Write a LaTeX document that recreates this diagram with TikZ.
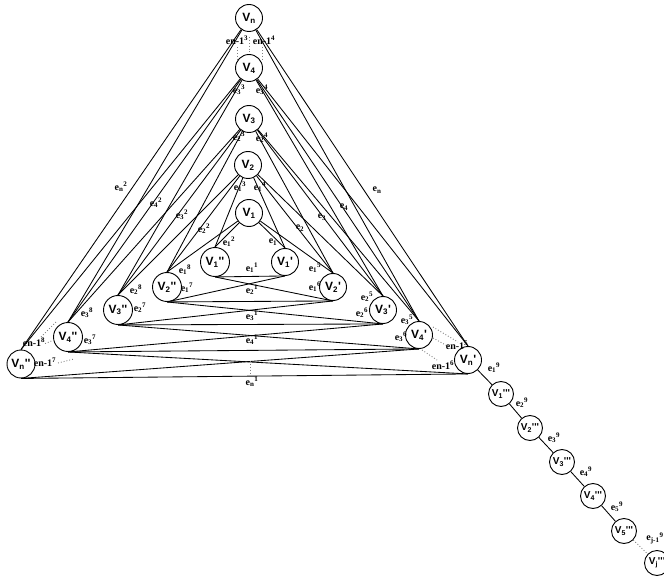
\documentclass[tikz,border=0pt]{standalone}
\usepackage{fontspec}
\setmainfont{Liberation Serif}
\newfontfamily\vfont{Liberation Sans}
\newcommand{\Vs}[2]{V\textsubscript{#1}#2}
\newcommand{\Es}[2]{e\textsubscript{#1}\textsuperscript{#2}}
\newcommand{\En}[1]{en-1\textsuperscript{#1}}
\begin{document}
\begin{tikzpicture}[x=1pt,y=-1pt,
  vx/.style={circle,draw,line width=0.9pt,minimum size=27pt,inner sep=0pt,font=\vfont\bfseries\fontsize{12}{12}\selectfont},
  vb/.style={vx,minimum size=29pt},
  vc/.style={vx,minimum size=25pt,font=\vfont\bfseries\fontsize{10}{10}\selectfont},
  lab/.style={font=\bfseries\fontsize{10}{10}\selectfont,inner sep=0pt},
  ed/.style={line width=0.85pt},
  dt/.style={dotted,line width=0.9pt,gray}]
\clip (0,0) rectangle (664,580);
% apex column
\node[vx] (Vn) at (249,18) {\Vs{n}{}};
\node[vx] (V4) at (249,68) {\Vs{4}{}};
\node[vx] (V3) at (249,119) {\Vs{3}{}};
\node[vx] (V2) at (248,165) {\Vs{2}{}};
\node[vx] (V1) at (249,213) {\Vs{1}{}};
% right (') vertices
\node[vx] (V1a) at (285,262) {\Vs{1}{'}};
\node[vx] (V2a) at (333,287) {\Vs{2}{'}};
\node[vx] (V3a) at (383,310) {\Vs{3}{'}};
\node[vx] (V4a) at (419,335) {\Vs{4}{'}};
\node[vx] (Vna) at (468,360) {\Vs{n}{'}};
% left ('') vertices
\node[vb] (V1b) at (215,262) {\Vs{1}{''}};
\node[vb] (V2b) at (167,287) {\Vs{2}{''}};
\node[vb] (V3b) at (118,310) {\Vs{3}{''}};
\node[vb] (V4b) at (68,337) {\Vs{4}{''}};
\node[vb,minimum size=28pt] (Vnb) at (21,364) {\Vs{n}{''}};
% chain
\node[vc] (V1c) at (501,394) {\Vs{1}{'''}};
\node[vc] (V2c) at (530,428) {\Vs{2}{'''}};
\node[vc] (V3c) at (562,462) {\Vs{3}{'''}};
\node[vc] (V4c) at (593,496) {\Vs{4}{'''}};
\node[vc] (V5c) at (624,531) {\Vs{5}{'''}};
\node[vc] (Vjc) at (657,563) {\Vs{j}{'''}};
% level edges
\foreach \i in {1,2,3,4,n}{
  \draw[ed] (V\i) -- (V\i b.north);
  \draw[ed] (V\i) -- (V\i a.north);
  \draw[ed] (V\i b.south) -- (V\i a.south);
}
% cross-level edges
\foreach \i/\j in {1/2,2/3,3/4,4/n}{
  \draw[ed] (V\j) -- (V\i b.north);
  \draw[ed] (V\j) -- (V\i a.north);
  \draw[ed] (V\j a.north) -- (V\i);
  \draw[ed] (V\j a.south) -- (V\i b.south);
  \draw[ed] (V\j b.north) -- (V\i);
  \draw[ed] (V\j b.south) -- (V\i a.south);
}
% chain edges
\draw[ed] (Vna) -- (V1c);
\draw[ed] (V1c) -- (V2c);
\draw[ed] (V2c) -- (V3c);
\draw[ed] (V3c) -- (V4c);
\draw[ed] (V4c) -- (V5c);
\draw[dt] (V5c) -- (Vjc);
% dotted gap markers
\coordinate (t1a) at (237,47); \coordinate (t1b) at (237,60);
\coordinate (t2a) at (249,37); \coordinate (t2b) at (249,53);
\coordinate (t3a) at (262,47); \coordinate (t3b) at (262,60);
\draw[dt] (t1a) -- (t1b);
\draw[dt] (t2a) -- (t2b);
\draw[dt] (t3a) -- (t3b);
\coordinate (b1a) at (250,361); \coordinate (b1b) at (250,373);
\draw[dt] (b1a) -- (b1b);
\coordinate (r1a) at (433,327); \coordinate (r1b) at (458,342);
\coordinate (r2a) at (433,338); \coordinate (r2b) at (453,349);
\coordinate (r3a) at (422,350); \coordinate (r3b) at (437,360);
\draw[dt] (r1a) -- (r1b);
\draw[dt] (r2a) -- (r2b);
\draw[dt] (r3a) -- (r3b);
\coordinate (l1a) at (56,322); \coordinate (l1b) at (40,338);
\coordinate (l2a) at (54,340); \coordinate (l2b) at (44,344);
\coordinate (l3a) at (58,363); \coordinate (l3b) at (74,359);
\draw[dt] (l1a) -- (l1b);
\draw[dt] (l2a) -- (l2b);
\draw[dt] (l3a) -- (l3b);
% edge labels
\node[lab] (L01) at (237,40) {\En{3}};
\node[lab] (L02) at (264,40) {\En{4}};
\node[lab] (L03) at (239,90) {\Es{3}{3}};
\node[lab] (L04) at (262,90) {\Es{3}{4}};
\node[lab] (L05) at (239,137) {\Es{2}{3}};
\node[lab] (L06) at (262,138) {\Es{2}{4}};
\node[lab] (L07) at (240,187) {\Es{1}{3}};
\node[lab] (L08) at (260,187) {\Es{1}{4}};
\node[lab] (L09) at (229,242) {\Es{1}{2}};
\node[lab] (L10) at (273,242) {e\textsubscript{1}};
\node[lab] (L11) at (204,229) {\Es{2}{2}};
\node[lab] (L12) at (300,228) {e\textsubscript{2}};
\node[lab] (L13) at (182,215) {\Es{3}{2}};
\node[lab] (L14) at (322,217) {e\textsubscript{3}};
\node[lab] (L15) at (156,203) {\Es{4}{2}};
\node[lab] (L16) at (344,207) {e\textsubscript{4}};
\node[lab] (L17) at (121,187) {\Es{n}{2}};
\node[lab] (L18) at (377,190) {e\textsubscript{n}};
\node[lab] (L19) at (252,268) {\Es{1}{1}};
\node[lab] (L20) at (252,290) {\Es{2}{1}};
\node[lab] (L21) at (252,316) {\Es{3}{1}};
\node[lab] (L22) at (252,340) {\Es{4}{1}};
\node[lab] (L23) at (252,382) {\Es{n}{1}};
\node[lab] (L24) at (185,270) {\Es{1}{8}};
\node[lab] (L25) at (187,288) {\Es{1}{7}};
\node[lab] (L26) at (136,290) {\Es{2}{8}};
\node[lab] (L27) at (140,308) {\Es{2}{7}};
\node[lab] (L28) at (87,313) {\Es{3}{8}};
\node[lab] (L29) at (90,340) {\Es{3}{7}};
\node[lab] (L30) at (34,342) {\En{8}};
\node[lab] (L31) at (45,362) {\En{7}};
\node[lab] (L32) at (315,268) {\Es{1}{5}};
\node[lab] (L33) at (315,287) {\Es{1}{6}};
\node[lab] (L34) at (367,297) {\Es{2}{5}};
\node[lab] (L35) at (362,313) {\Es{2}{6}};
\node[lab] (L36) at (407,320) {\Es{3}{5}};
\node[lab] (L37) at (401,337) {\Es{3}{6}};
\node[lab] (L38) at (457,345) {\En{5}};
\node[lab] (L39) at (443,365) {\En{6}};
\node[lab] (L40) at (494,368) {\Es{1}{9}};
\node[lab] (L41) at (522,403) {\Es{2}{9}};
\node[lab] (L42) at (554,438) {\Es{3}{9}};
\node[lab] (L43) at (586,472) {\Es{4}{9}};
\node[lab] (L44) at (617,507) {\Es{5}{9}};
\node[lab] (L45) at (655,538) {\Es{j-1}{9}};
\end{tikzpicture}
\end{document}
